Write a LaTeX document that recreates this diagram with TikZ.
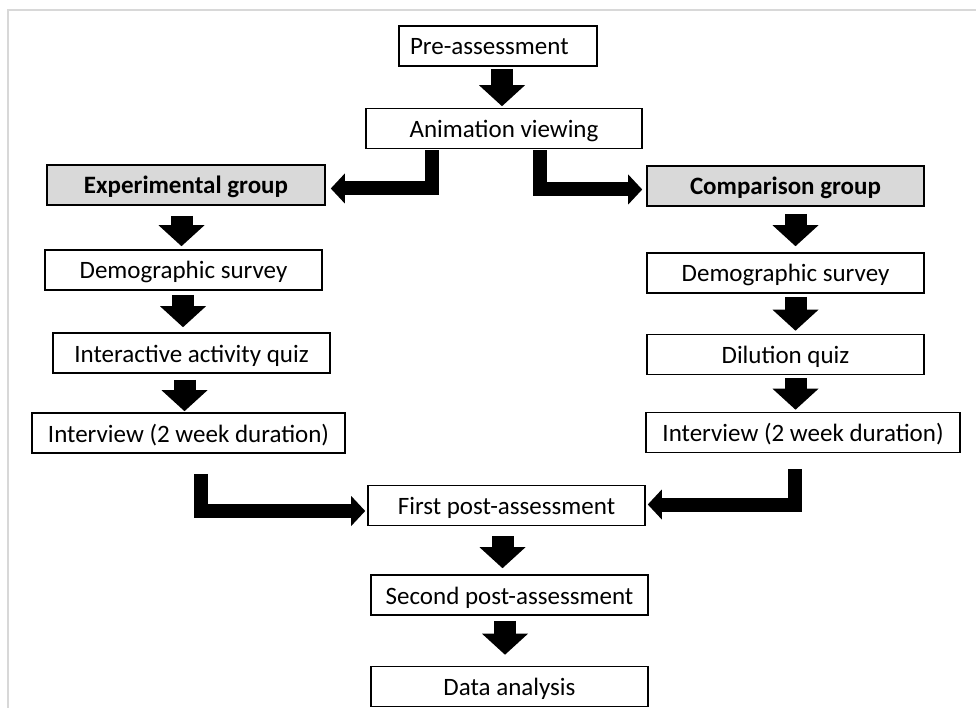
\documentclass[tikz,border=0pt]{standalone}
\usepackage{fontspec}
\setmainfont{Carlito}
\usetikzlibrary{arrows.meta}
\definecolor{groupgray}{RGB}{217,217,217}
\definecolor{framegray}{RGB}{216,216,216}
\begin{document}
\begin{tikzpicture}[x=1pt,y=-1pt,
  box/.style={draw=black, line width=1.6pt, minimum height=40pt, inner sep=0pt,
    text height=18pt, text depth=0pt,
    font=\fontsize{25}{30}\selectfont, fill=white},
  grp/.style={box, fill=groupgray, font=\fontsize{25}{30}\selectfont\bfseries},
  downarr/.style={line width=22pt, line cap=butt,
    -{Triangle[width=46pt,length=21pt,line width=0pt]}},
  elbowarr/.style={line width=14pt, line join=miter, line cap=butt,
    -{Triangle[width=30pt,length=14pt,line width=0pt]}},
]
\useasboundingbox (0,0) rectangle (976,708);
\fill[white] (0,0) rectangle (976,708);
\draw[framegray, line width=2pt] (7.5,708) -- (7.5,10.5) -- (976,10.5);

% boxes
\node[box, inner xsep=11pt, text width=176pt, align=left] (pre) at (498,46) {Pre-assessment};
\node[box, minimum width=276pt] (anim) at (504,128.5) {Animation viewing};
\node[grp, minimum width=278pt] (exp) at (186,185) {Experimental group};
\node[grp, minimum width=277pt] (comp) at (785.5,186) {Comparison group};
\node[box, minimum width=277pt] (demL) at (183.5,270) {Demographic survey};
\node[box, minimum width=277pt] (quiz) at (191.5,353) {Interactive activity quiz};
\node[box, minimum width=313pt] (intL) at (188.5,433) {Interview (2 week duration)};
\node[box, minimum width=277pt] (demR) at (785.5,273) {Demographic survey};
\node[box, minimum width=277pt] (dil) at (785.5,354.5) {Dilution quiz};
\node[box, minimum width=314pt] (intR) at (803,432.5) {Interview (2 week duration)};
\node[box, minimum width=277pt] (first) at (506.5,505.5) {First post-assessment};
\node[box, minimum width=277pt] (second) at (509.5,595) {Second post-assessment};
\node[box, minimum width=277pt] (data) at (509.5,686.5) {Data analysis};

% straight down arrows
\draw[downarr, shorten <=2pt, shorten >=1.5pt]
  ([xshift=4pt]pre.south) -- ([xshift=4pt]pre.south |- anim.north);
\draw[downarr, shorten <=10pt, shorten >=3pt]
  ([xshift=-4.5pt]exp.south) -- ([xshift=-4.5pt]exp.south |- demL.north);
\draw[downarr, shorten <=4pt, shorten >=5pt]
  ([xshift=-0.5pt]demL.south) -- ([xshift=-0.5pt]demL.south |- quiz.north);
\draw[downarr, shorten <=6pt, shorten >=1pt]
  ([xshift=-7pt]quiz.south) -- ([xshift=-7pt]quiz.south |- intL.north);
\draw[downarr, shorten <=7pt, shorten >=6pt]
  ([xshift=10pt]comp.south) -- ([xshift=10pt]comp.south |- demR.north);
\draw[downarr, shorten <=3pt, shorten >=3pt]
  ([xshift=10pt]demR.south) -- ([xshift=10pt]demR.south |- dil.north);
\draw[downarr, shorten <=3pt, shorten >=2pt]
  ([xshift=10pt]dil.south) -- ([xshift=10pt]dil.south |- intR.north);
\draw[downarr, shorten <=10pt, shorten >=6pt]
  ([xshift=-4pt]first.south) -- ([xshift=-4pt]first.south |- second.north);
\draw[downarr, shorten <=5pt, shorten >=11pt]
  ([xshift=-4.5pt]second.south) -- ([xshift=-4.5pt]second.south |- data.north);

% elbow arrows
\draw[elbowarr, shorten <=1pt, shorten >=5pt]
  ([xshift=-72.5pt]anim.south) |- ([yshift=-3.5pt]exp.east);
\draw[elbowarr, shorten <=1pt, shorten >=4pt]
  ([xshift=36pt]anim.south) |- ([yshift=-3.5pt]comp.west);
\draw[elbowarr, shorten <=20pt, shorten >=2pt]
  ([xshift=12.5pt]intL.south) |- ([yshift=-5.5pt]first.west);
\draw[elbowarr, shorten <=16pt, shorten >=2pt]
  ([xshift=-8.5pt]intR.south) |- ([yshift=1pt]first.east);
\end{tikzpicture}
\end{document}
